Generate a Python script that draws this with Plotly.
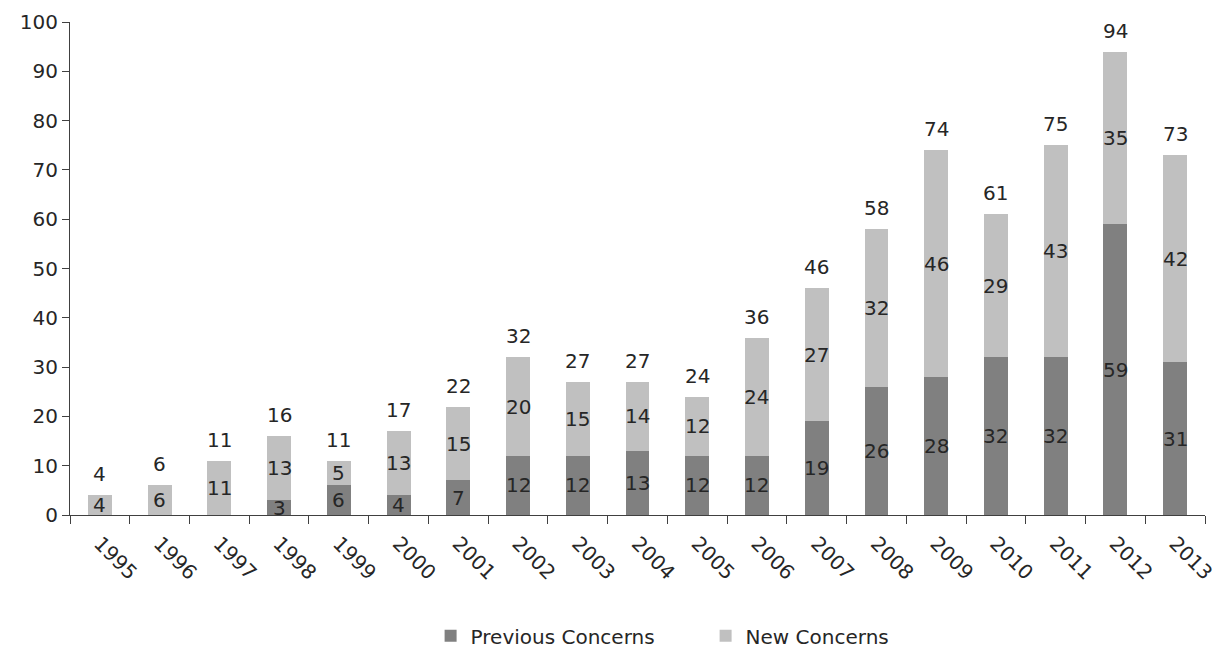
import plotly.graph_objects as go

years = [str(y) for y in range(1995, 2014)]
previous = [0, 0, 0, 3, 6, 4, 7, 12, 12, 13, 12, 12, 19, 26, 28, 32, 32, 59, 31]
new = [4, 6, 11, 13, 5, 13, 15, 20, 15, 14, 12, 24, 27, 32, 46, 29, 43, 35, 42]
y_ticks = list(range(0, 101, 10))

PREV_COLOR = "#808080"
NEW_COLOR = "#c0c0c0"
TEXT_COLOR = "#262626"
FONT = "DejaVu Sans, Verdana, sans-serif"
FS = 20

fig = go.Figure()
fig.add_trace(go.Bar(x=years, y=previous, name="Previous Concerns",
                     marker=dict(color=PREV_COLOR, line=dict(width=0))))
fig.add_trace(go.Bar(x=years, y=new, name="New Concerns",
                     marker=dict(color=NEW_COLOR, line=dict(width=0))))

annotations = []
lab_font = dict(size=FS, color=TEXT_COLOR, family=FONT)
for i, (p, n) in enumerate(zip(previous, new)):
    if p > 0:
        annotations.append(dict(x=i, y=p / 2, xref="x", yref="y", text=str(p),
                                showarrow=False, yanchor="middle", font=lab_font))
    if n > 0:
        annotations.append(dict(x=i, y=p + n / 2, xref="x", yref="y", text=str(n),
                                showarrow=False, yanchor="middle", font=lab_font))
    annotations.append(dict(x=i, y=p + n, xref="x", yref="y", text=str(p + n),
                            showarrow=False, yanchor="bottom", yshift=7, font=lab_font))

fig.update_layout(
    barmode="stack",
    bargap=0.6,
    width=1219, height=651,
    margin=dict(l=70, r=14, t=22, b=136, autoexpand=False),
    plot_bgcolor="white", paper_bgcolor="white",
    font=dict(family=FONT, size=FS, color=TEXT_COLOR),
    annotations=annotations,
    showlegend=True,
    legend=dict(orientation="h", x=0.56, xanchor="center", y=-0.245, yanchor="middle",
                font=dict(size=FS, color=TEXT_COLOR, family=FONT),
                entrywidth=230, entrywidthmode="pixels",
                traceorder="normal", itemsizing="constant"),
    xaxis=dict(type="category", range=[-0.5, len(years) - 0.5],
               showline=True, linecolor="#404040", linewidth=1,
               ticks="outside", ticklen=8, tickcolor="#404040", tickson="boundaries",
               tickangle=45, ticklabelstandoff=8,
               tickfont=dict(size=FS, color=TEXT_COLOR), showgrid=False),
    yaxis=dict(range=[0, 100], tickvals=y_ticks, showline=True, linecolor="#404040",
               linewidth=1, ticks="outside", ticklen=7, tickcolor="#404040",
               showgrid=False, zeroline=False, tickfont=dict(size=FS, color=TEXT_COLOR)),
)

fig.write_html("out.html", config={"displayModeBar": False},
               post_script="document.body.style.margin='0';")
